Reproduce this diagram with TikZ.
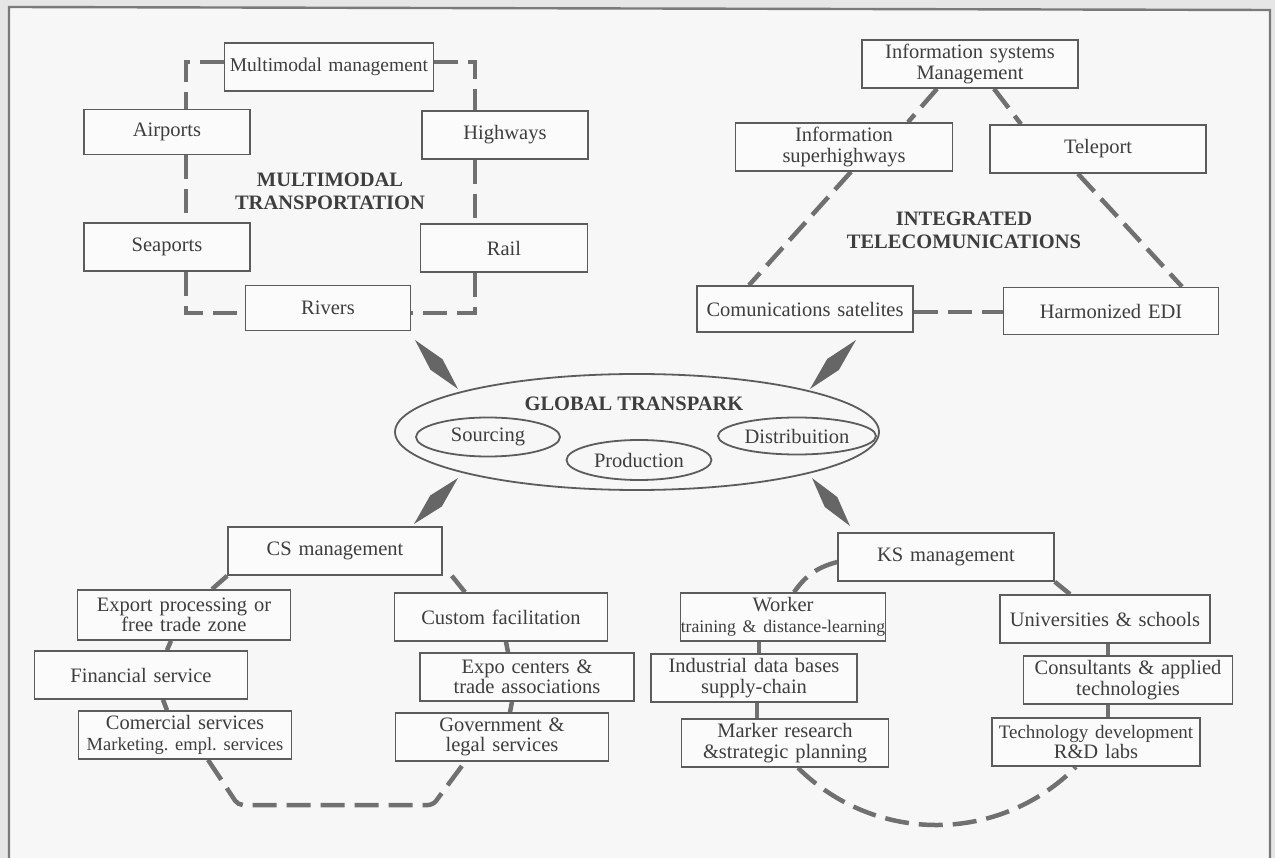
\documentclass[tikz,border=0pt]{standalone}
\usepackage{fontspec}
\setmainfont{Liberation Serif}
\usetikzlibrary{calc,shapes.geometric}
\pgfdeclarelayer{bg}
\pgfdeclarelayer{edges}
\pgfsetlayers{bg,edges,main}
\definecolor{linecol}{HTML}{707070}
\definecolor{boxline}{HTML}{5C5C5C}
\definecolor{txtcol}{HTML}{3E3E3E}
\definecolor{pagebg}{HTML}{F7F7F7}
\definecolor{outbg}{HTML}{E6E6E6}
\definecolor{boxfill}{HTML}{FBFBFB}
\definecolor{kitecol}{HTML}{666666}
\definecolor{framecol}{HTML}{7A7A7A}
\newcommand\mykite[2]{%
  \coordinate (kmid) at ($(#1)!0.5!(#2)$);
  \fill[kitecol] (#1) -- ($(kmid)!8pt!90:(#2)$) -- (#2) -- ($(kmid)!8pt!-90:(#2)$) -- cycle;}
\tikzset{
  box/.style={draw=boxline, line width=1.6pt, fill=boxfill, text=txtcol, inner sep=0pt,
    align=center, font=\frenchspacing\fontsize{20.5}{20.5}\selectfont, text width=#1, minimum height=48pt},
  ell/.style={ellipse, draw=boxline, line width=1.8pt, inner sep=0pt, text=txtcol,
    font=\fontsize{20.5}{22}\selectfont},
  ttl/.style={text=txtcol, align=center, font=\bfseries\fontsize{20.5}{23}\selectfont, inner sep=0pt},
  dl/.style={draw=linecol, line width=4.5pt, dash pattern=on 24pt off 10pt},
}
\begin{document}
\begin{tikzpicture}[x=1pt,y=-1pt]
\useasboundingbox (0,0) rectangle (1275,858);
\begin{pgfonlayer}{bg}
  \fill[outbg] (0,0) rectangle (1275,858);
  \fill[pagebg] (9,7) -- (1270,10) -- (1270,858) -- (9,858) -- cycle;
  \draw[framecol, line width=2.4pt] (9,858) -- (9,7) -- (1270,10) -- (1270,858);
\end{pgfonlayer}

% Multimodal transportation
\node[box=209pt, font=\fontsize{19.5}{20}\selectfont] (mm) at (329,67) {Multimodal management};
\node[box=166pt, minimum height=45pt] (air) at (167,132) {Airports};
\node[box=166pt] (hwy) at (505,135) {Highways};
\node[box=166pt] (sea) at (167,247) {Seaports};
\node[box=167pt] (rail) at (504,248) {Rail};
\node[box=165pt, minimum height=45pt] (riv) at (328,308) {Rivers};
\node[ttl] (mtt) at (330,191) {MULTIMODAL\\TRANSPORTATION};

% Integrated telecommunications
\node[box=216pt] (isys) at (970,64) {Information systems\\Management};
\node[box=217pt] (ish) at (844,147) {Information\\superhighways};
\node[box=216pt] (tel) at (1098,149) {Teleport};
\node[box=216pt, minimum height=46pt] (csat) at (805,309) {Comunications satelites};
\node[box=215pt, minimum height=47pt] (hedi) at (1111,311) {Harmonized EDI};
\node[ttl] (itt) at (964,230) {INTEGRATED\\TELECOMUNICATIONS};

% Global Transpark
\node[ell, minimum width=484pt, minimum height=116pt] (gt) at (637,432) {};
\node[ttl] (gtt) at (634,404) {GLOBAL TRANSPARK};
\node[ell, minimum width=144pt, minimum height=39pt] (src) at (488,437) {Sourcing};
\node[ell, minimum width=145pt, minimum height=40pt] (prod) at (639,460) {Production};
\node[ell, minimum width=158pt, minimum height=37pt] (dist) at (797,436) {Distribuition};

% CS management
\node[box=214pt] (csm) at (335,551) {CS management};
\node[box=213pt, minimum height=50pt] (exp) at (184,615) {Export processing or\\free trade zone};
\node[box=213pt] (cust) at (501,617) {Custom facilitation};
\node[box=213pt] (fin) at (141,675) {Financial service};
\node[box=214pt] (expo) at (527,677) {Expo centers \&\\trade associations};
\node[box=213pt] (com) at (185,735) {Comercial services\\{\fontsize{18.5}{20}\selectfont Marketing. empl. services}};
\node[box=213pt] (gov) at (502,737) {Government \&\\legal services};

% KS management
\node[box=216pt] (ksm) at (946,557) {KS management};
\node[box=205pt] (wrk) at (783,617) {Worker\\{\fontsize{17.7}{18}\selectfont training \& distance-learning}};
\node[box=210pt] (uni) at (1105,619) {Universities \& schools};
\node[box=206pt] (ind) at (754,678) {Industrial data bases\\supply-chain};
\node[box=209pt] (con) at (1128,680) {Consultants \& applied\\technologies};
\node[box=207pt] (mkr) at (785,743) {Marker research\\\&strategic planning};
\node[box=208pt] (tech) at (1096,742) {{\fontsize{19}{20}\selectfont Technology development}\\R\&D labs};

\begin{pgfonlayer}{edges}
  % multimodal loop
  \coordinate (c1) at (186,62);
  \coordinate (c2) at (475,62);
  \coordinate (c3) at (475,313);
  \coordinate (c4) at (186,313);
  \draw[dl] (c1 -| mm.west) -- (c1) -- (c1 |- air.north);
  \draw[dl] (c1 |- air.south) -- (c1 |- sea.north);
  \draw[dl] (c1 |- sea.south) -- (c4) -- (c4 -| riv.west);
  \draw[dl] (c2 -| mm.east) -- (c2) -- (c2 |- hwy.north);
  \draw[dl] (c2 |- hwy.south) -- (c2 |- rail.north);
  \draw[dl] (c2 |- rail.south) -- (c3) -- (c3 -| riv.east);
  % telecom triangle
  \draw[dl] ($(isys.south)+(-33,0)$) -- ($(ish.north)+(64,0)$);
  \draw[dl] ($(isys.south)+(24,0)$) -- ($(tel.north)+(-77,0)$);
  \draw[dl] ($(ish.south)+(7,0)$) -- ($(csat.north)+(-56,0)$);
  \draw[dl] ($(tel.south)+(-20,0)$) -- ($(hedi.north)+(71,0)$);
  \draw[dl] ($(csat.east)+(0,3)$) -- ($(hedi.west)+(0,1)$);
  % CS ring
  \draw[dl] (csm.south west) -- ($(exp.north)+(28,0)$);
  \draw[dl] ($(csm.south east)+(9,0)$) -- ($(cust.north)+(-36,0)$);
  \draw[dl] ($(exp.south)+(-13,0)$) -- ($(fin.north)+(26,0)$);
  \draw[dl] ($(fin.south)+(22,0)$) -- ($(com.north)+(-18,0)$);
  \draw[dl] ($(cust.south)+(5,0)$) -- ($(expo.north)+(-19,0)$);
  \draw[dl] ($(expo.south)+(-15,0)$) -- ($(gov.north)+(8,0)$);
  \coordinate (cb1) at (238,805);
  \coordinate (cb2) at (433,805);
  \draw[dl, rounded corners=5pt] ($(com.south)+(23,0)$) -- (cb1) -- (cb2) -- ($(gov.south)+(-37,0)$);
  % KS ring
  \draw[dl] ($(ksm.west)+(0,5)$) to[bend right=20] ($(wrk.north)+(11,0)$);
  \draw[dl] (ksm.south east) -- ($(uni.north)+(-35,0)$);
  \draw[dl] ($(uni.south)+(3,0)$) -- ($(con.north)+(-20,0)$);
  \draw[dl] ($(con.south)+(-20,0)$) -- ($(tech.north)+(12,0)$);
  \draw[dl] ($(wrk.south)+(-24,0)$) -- ($(ind.north)+(5,0)$);
  \draw[dl] ($(ind.south)+(3,0)$) -- ($(mkr.north)+(-28,0)$);
  \draw[dl] ($(mkr.south)+(13,0)$) to[bend right=45] ($(tech.south)+(-20,0)$);
\end{pgfonlayer}

% kite connectors to the Global Transpark
\coordinate (k1a) at (415,340); \coordinate (k1b) at (458,389);
\coordinate (k2a) at (856,340); \coordinate (k2b) at (810,389);
\coordinate (k3a) at (458,478); \coordinate (k3b) at (414,524);
\coordinate (k4a) at (812,478); \coordinate (k4b) at (850,526);
\mykite{k1a}{k1b}
\mykite{k2a}{k2b}
\mykite{k3a}{k3b}
\mykite{k4a}{k4b}
\end{tikzpicture}
\end{document}
